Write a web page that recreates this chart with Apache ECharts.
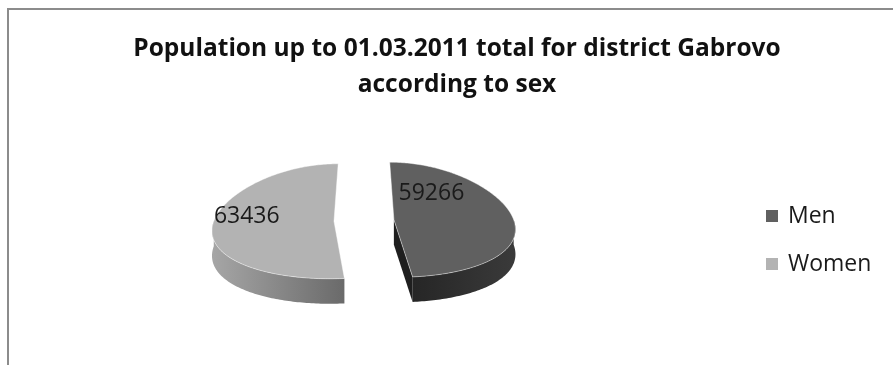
<!DOCTYPE html>
<html>
<head>
<meta charset="utf-8">
<script src="https://cdn.jsdelivr.net/npm/echarts@6/dist/echarts.min.js"></script>
<style>
  html, body { margin: 0; padding: 0; background: #ffffff; }
  #chart { width: 893px; height: 365px; }
</style>
</head>
<body>
<div id="chart"></div>
<script>
// Population by sex, district Gabrovo, 01.03.2011
const categories = ['Men', 'Women'];
const population = [59266, 63436];

// Palette: top face, wall gradient (left -> right), cut face
const topColors = ['#606060', '#b3b3b3'];
const wallColors = [['#262626', '#3a3a3a'], ['#a6a6a6', '#6a6a6a']];
const cutColors = ['#1f1f1f', '#8a8a8a'];

// Tilted-disc projection of the pie
const CX = 364, CY = 220.5;      // disc centre on screen
const RX = 120, RY = 57.5;       // ellipse semi-axes
const DEPTH = 25;                // thickness of the disc
const PERSP = 0.14;              // narrowing of the far side
const EXPLODE = 0.25;            // slice offset, in radii
const labelSpots = [{ ang: 38, r: 0.57 }, { ang: 276, r: 0.74 }];

const total = population.reduce((s, v) => s + v, 0);
const rad = d => d * Math.PI / 180;

function project(u, w, down) {
  return [CX + RX * u * (1 - PERSP * w), CY - RY * w + (down || 0)];
}

function sliceRange(i) {
  let before = 0;
  for (let k = 0; k < i; k++) before += population[k];
  const s = before / total * 360;
  const e = (before + population[i]) / total * 360;
  return [s, e];
}

function arcPoints(ou, ow, a0, a1, down) {
  const pts = [];
  const n = Math.max(2, Math.ceil(Math.abs(a1 - a0)));
  for (let j = 0; j <= n; j++) {
    const t = rad(a0 + (a1 - a0) * j / n);
    pts.push(project(ou + Math.sin(t), ow + Math.cos(t), down));
  }
  return pts;
}

function renderSlice(params, api) {
  const i = params.seriesIndex;
  const value = api.value(0);
  const [s, e] = sliceRange(i);
  const mid = rad((s + e) / 2);
  const ou = EXPLODE * Math.sin(mid), ow = EXPLODE * Math.cos(mid);
  const children = [];

  // outer wall, front half only
  const w0 = Math.max(s, 90), w1 = Math.min(e, 270);
  if (w1 > w0) {
    const top = arcPoints(ou, ow, w0, w1, 0);
    const bottom = arcPoints(ou, ow, w0, w1, DEPTH).reverse();
    children.push({
      type: 'polygon',
      shape: { points: top.concat(bottom) },
      style: {
        fill: {
          type: 'linear', x: 0, y: 0, x2: 1, y2: 0,
          colorStops: [
            { offset: 0, color: wallColors[i][0] },
            { offset: 1, color: wallColors[i][1] }
          ]
        }
      }
    });
  }

  // radial cut faces that turn toward the viewer
  [[s, s - 90], [e, e + 90]].forEach(([edge, normal]) => {
    if (-Math.cos(rad(normal)) > 1e-6) {
      const t = rad(edge);
      const c0 = project(ou, ow, 0);
      const r0 = project(ou + Math.sin(t), ow + Math.cos(t), 0);
      children.push({
        type: 'polygon',
        shape: { points: [c0, r0, [r0[0], r0[1] + DEPTH], [c0[0], c0[1] + DEPTH]] },
        style: { fill: cutColors[i] }
      });
    }
  });

  // top face
  const face = [project(ou, ow, 0)].concat(arcPoints(ou, ow, s, e, 0));
  children.push({
    type: 'polygon',
    shape: { points: face },
    style: { fill: topColors[i], stroke: 'rgba(255,255,255,0.55)', lineWidth: 0.8 }
  });

  // value label
  const spot = labelSpots[i];
  const la = rad(spot.ang);
  const lp = project(ou + spot.r * Math.sin(la), ow + spot.r * Math.cos(la), 0);
  children.push({
    type: 'text',
    x: lp[0], y: lp[1],
    style: {
      text: String(value),
      fill: '#1a1a1a',
      font: '23px "Open Sans"',
      align: 'center',
      verticalAlign: 'middle'
    }
  });

  return { type: 'group', children };
}

const chart = echarts.init(document.getElementById('chart'), null, { renderer: 'canvas' });

chart.setOption({
  animation: false,
  backgroundColor: '#ffffff',
  title: {
    text: 'Population up to 01.03.2011 total for district Gabrovo\naccording to sex',
    left: 457,
    top: 31,
    padding: 0,
    textAlign: 'center',
    textStyle: {
      fontFamily: 'Open Sans',
      fontWeight: 'bold',
      fontSize: 24.5,
      lineHeight: 36,
      color: '#111111'
    }
  },
  legend: {
    orient: 'vertical',
    left: 761,
    top: 199,
    icon: 'rect',
    itemWidth: 12,
    itemHeight: 12,
    itemGap: 24,
    selectedMode: false,
    textStyle: {
      fontFamily: 'Open Sans',
      fontSize: 23,
      lineHeight: 24,
      color: '#1a1a1a',
      padding: [0, 0, 0, 5]
    },
    data: categories
  },
  graphic: [{
    type: 'rect',
    silent: true,
    z: 100,
    shape: { x: 8, y: 9, width: 1200, height: 1200 },
    style: { fill: null, stroke: '#8c8c8c', lineWidth: 2 }
  }],
  series: categories.map((name, i) => ({
    type: 'custom',
    name: name,
    coordinateSystem: 'none',
    silent: true,
    itemStyle: { color: topColors[i] },
    renderItem: renderSlice,
    data: [[population[i]]]
  }))
});
</script>
</body>
</html>
